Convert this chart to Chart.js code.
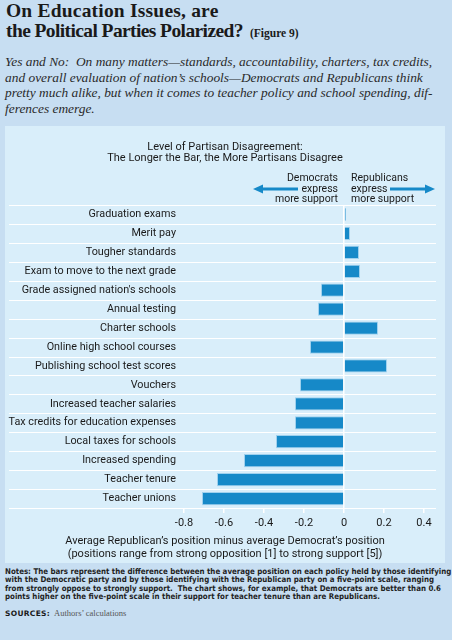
<!DOCTYPE html>
<html lang="en">
  <head>
    <meta charset="utf-8" />
    <title>On Education Issues, are the Political Parties Polarized?</title>
    <script src="https://cdn.jsdelivr.net/npm/chart.js"></script>
    <style>
      html, body {
        margin: 0;
        padding: 0;
        width: 452px;
        height: 640px;
        overflow: hidden;
        background: #c7def2;
        color: #1a1a1a;
      }
      #title {
        position: absolute;
        left: 6px;
        top: 1px;
        font-family: "Liberation Serif", serif;
        font-weight: bold;
        font-size: 19.5px;
        line-height: 20px;
        white-space: nowrap;
      }
      #title .l1 { letter-spacing: 0.2px; }
      #title .l2 { letter-spacing: -0.6px; }
      #title small {
        font-size: 11.5px;
        letter-spacing: 0;
        margin-left: 7px;
      }
      #subtitle {
        position: absolute;
        left: 5px;
        top: 54px;
        font-family: "Liberation Serif", serif;
        font-style: italic;
        font-size: 13.4px;
        line-height: 15.7px;
        white-space: nowrap;
        color: #2a2a2a;
      }
      #panel {
        position: absolute;
        left: 5px;
        top: 126px;
        width: 440px;
        height: 437px;
        background: #d9eefa;
      }
      #notes {
        position: absolute;
        left: 5px;
        top: 568px;
        font-family: "DejaVu Sans Condensed", "DejaVu Sans", sans-serif;
        font-weight: bold;
        font-size: 7.85px;
        line-height: 8.3px;
        white-space: nowrap;
        color: #1f1f1f;
      }
      #sources {
        position: absolute;
        left: 5px;
        top: 602px;
        white-space: nowrap;
      }
      #sources b {
        font-family: "DejaVu Sans", sans-serif;
        font-size: 7.5px;
        letter-spacing: 0.3px;
      }
      #sources span {
        font-family: "Liberation Serif", serif;
        font-size: 8.5px;
        color: #555;
      }
    </style>
  </head>
  <body>
    <div id="title">
      <span class="l1">On Education Issues, are</span><br />
      <span class="l2">the Political Parties Polarized?</span><small>(Figure 9)</small>
    </div>
    <div id="subtitle">
      Yes and No:&nbsp; On many matters—standards, accountability, charters, tax credits,<br />
      and overall evaluation of nation’s schools—Democrats and Republicans think<br />
      pretty much alike, but when it comes to teacher policy and school spending, dif-<br />
      ferences emerge.
    </div>

    <div id="panel">
      <canvas id="partisanChart" width="440" height="437"></canvas>
    </div>

    <div id="notes">
      Notes: The bars represent the difference between the average position on each policy held by those identifying<br />
      with the Democratic party and by those identifying with the Republican party on a five-point scale, ranging<br />
      from strongly oppose to strongly support.&nbsp; The chart shows, for example, that Democrats are better than 0.6<br />
      points higher on the five-point scale in their support for teacher tenure than are Republicans.
    </div>
    <div id="sources"><b>SOURCES:</b> <span>Authors’ calculations</span></div>

    <script>
      // policies, top to bottom
      const policies = [
        "Graduation exams",
        "Merit pay",
        "Tougher standards",
        "Exam to move to the next grade",
        "Grade assigned nation's schools",
        "Annual testing",
        "Charter schools",
        "Online high school courses",
        "Publishing school test scores",
        "Vouchers",
        "Increased teacher salaries",
        "Tax credits for education expenses",
        "Local taxes for schools",
        "Increased spending",
        "Teacher tenure",
        "Teacher unions",
      ];
      // average Republican position minus average Democrat position
      const gaps = [
        0.01, 0.03, 0.075, 0.08, -0.115, -0.13, 0.17, -0.17, 0.215, -0.22,
        -0.245, -0.245, -0.34, -0.5, -0.635, -0.71,
      ];
      const tickValues = [-0.8, -0.6, -0.4, -0.2, 0, 0.2, 0.4];
      const chartTitle = [
        "Level of Partisan Disagreement:",
        "The Longer the Bar, the More Partisans Disagree",
      ];
      const axisTitle = [
        "Average Republican\u2019s position minus average Democrat\u2019s position",
        "(positions range from strong opposition [1] to strong support [5])",
      ];
      const demLabel = ["Democrats", "express", "more support"];
      const repLabel = ["Republicans", "express", "more support"];

      const barBlue = "#1689c8";
      const textColor = "#1a1a1a";
      const sansFont = "Roboto, 'Liberation Sans', sans-serif";

      // white separators across the whole row, label area included
      const rowLines = {
        id: "rowLines",
        beforeDatasetsDraw(chart) {
          const y = chart.scales.y;
          const ctx = chart.ctx;
          const step = (y.bottom - y.top) / policies.length;
          ctx.save();
          ctx.strokeStyle = "#ffffff";
          ctx.lineWidth = 1.2;
          for (let i = 0; i <= policies.length; i++) {
            const py = Math.round(y.top + i * step) + 0.5;
            ctx.beginPath();
            ctx.moveTo(4, py);
            ctx.lineTo(chart.chartArea.right, py);
            ctx.stroke();
          }
          ctx.restore();
        },
      };

      function arrow(ctx, fromX, toX, y) {
        const dir = toX > fromX ? 1 : -1;
        ctx.beginPath();
        ctx.moveTo(fromX, y);
        ctx.lineTo(toX - dir * 7, y);
        ctx.stroke();
        ctx.beginPath();
        ctx.moveTo(toX, y);
        ctx.lineTo(toX - dir * 10, y - 4.5);
        ctx.lineTo(toX - dir * 10, y + 4.5);
        ctx.closePath();
        ctx.fill();
      }

      // headings, direction arrows and axis title
      const annotations = {
        id: "annotations",
        afterDraw(chart) {
          const ctx = chart.ctx;
          const x0 = chart.scales.x.getPixelForValue(0);
          const midX = chart.width / 2;
          ctx.save();
          ctx.fillStyle = textColor;
          ctx.font = "11px " + sansFont;
          ctx.textBaseline = "middle";
          ctx.textAlign = "center";
          ctx.fillText(chartTitle[0], midX, 21);
          ctx.fillText(chartTitle[1], midX, 32.5);
          ctx.fillText(axisTitle[0], midX, 415.5);
          ctx.fillText(axisTitle[1], midX, 428);

          ctx.font = "10.5px " + sansFont;
          ctx.textAlign = "right";
          demLabel.forEach((t, i) => ctx.fillText(t, x0 - 6, 52.5 + i * 10.5));
          ctx.textAlign = "left";
          repLabel.forEach((t, i) => ctx.fillText(t, x0 + 7, 52.5 + i * 10.5));

          ctx.strokeStyle = barBlue;
          ctx.fillStyle = barBlue;
          ctx.lineWidth = 3;
          arrow(ctx, x0 - 46, x0 - 91, 63);
          arrow(ctx, x0 + 46, x0 + 91, 63);
          ctx.restore();
        },
      };

      new Chart(document.getElementById("partisanChart"), {
        type: "bar",
        data: {
          labels: policies,
          datasets: [
            {
              data: gaps,
              backgroundColor: barBlue,
              borderColor: "rgba(120,190,230,0.6)",
              borderWidth: 1,
              borderSkipped: "start",
              categoryPercentage: 1,
              barPercentage: 0.7,
            },
          ],
        },
        options: {
          indexAxis: "y",
          responsive: false,
          animation: false,
          devicePixelRatio: 1,
          layout: { padding: { top: 79, right: 9, bottom: 35, left: 0 } },
          plugins: {
            legend: { display: false },
            tooltip: { enabled: false },
          },
          scales: {
            x: {
              min: -0.8,
              max: 0.46,
              afterBuildTicks(scale) {
                scale.ticks = tickValues.map((v) => ({ value: v }));
              },
              afterFit(scale) {
                scale.height = 20;
              },
              border: { display: false },
              grid: {
                drawOnChartArea: true,
                color: (c) =>
                  c.tick && c.tick.value === 0 ? "#ffffff" : "rgba(0,0,0,0)",
                lineWidth: 1.5,
                tickColor: "#ffffff",
                tickLength: 5,
              },
              ticks: {
                color: textColor,
                font: { family: sansFont, size: 11 },
                padding: 4,
                callback: (v) => (v === 0 ? "0" : String(Math.round(v * 10) / 10)),
              },
            },
            y: {
              afterFit(scale) {
                scale.width = 179;
              },
              border: { display: false },
              grid: { display: false },
              ticks: {
                color: textColor,
                font: { family: sansFont, size: 10.8 },
                padding: 0,
              },
            },
          },
        },
        plugins: [rowLines, annotations],
      });
    </script>
  </body>
</html>
